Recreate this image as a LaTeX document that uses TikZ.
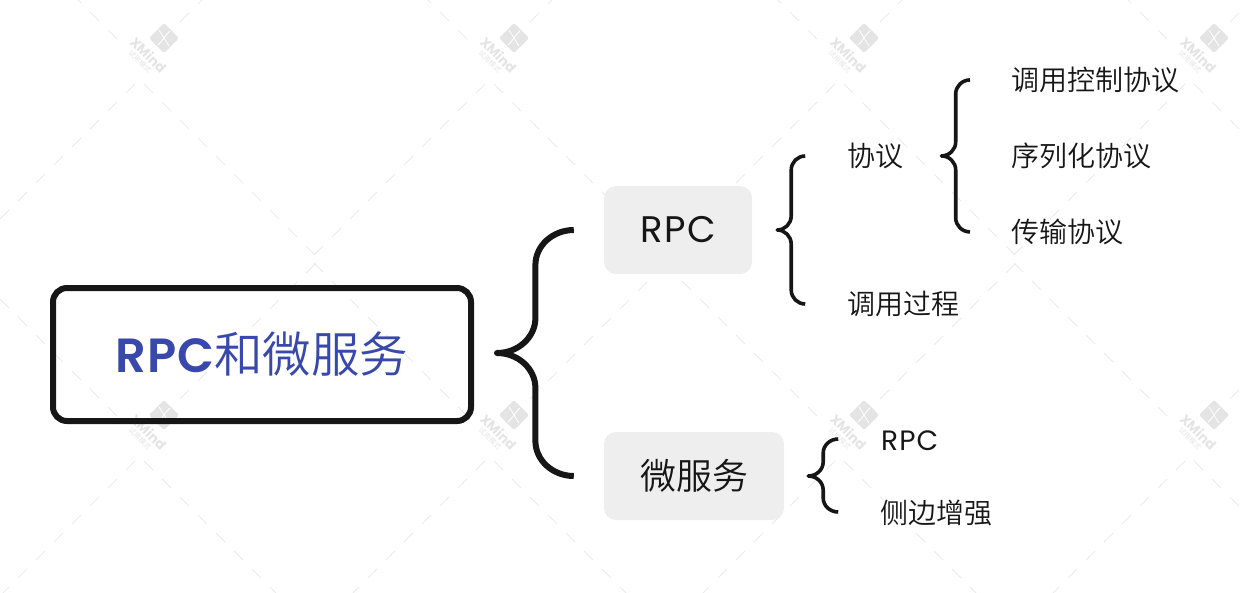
\documentclass[tikz,border=0pt]{standalone}
\usepackage{fontspec}
\setmainfont{Poppins}
\newfontfamily\cjk{Noto Sans CJK SC DemiLight}
\newfontfamily\cjkreg{Noto Sans CJK SC}
\newfontfamily\spaced[LetterSpace=4]{Poppins}
\newfontfamily\spacedbold[LetterSpace=1.5]{Poppins SemiBold}
\usetikzlibrary{calc}
\definecolor{ink}{HTML}{161616}
\definecolor{rootblue}{HTML}{3949AB}
\definecolor{pill}{HTML}{EEEEEE}
\definecolor{wmline}{HTML}{EBEBEB}
\definecolor{wmlogo}{HTML}{E4E4E4}
\tikzset{
  wmdash/.style={draw=wmline,line width=1pt,dash pattern=on 12.73pt off 12.73pt},
  rootbox/.style={draw=ink,line width=6pt,rounded corners=14pt,minimum width=418pt,minimum height=133pt,inner sep=0pt},
  pillbox/.style={fill=pill,rounded corners=12pt,minimum height=88pt,inner sep=0pt},
  kid/.style={anchor=base west,inner sep=0pt,text=ink,font=\fontsize{28}{34}\selectfont\cjk},
  bigbrace/.style={draw=ink,line width=6pt,line join=round},
  smallbrace/.style={draw=ink,line width=3.6pt,line join=round}
}
% #1 start, #2 end, #3 corner point: a quarter ellipse
\newcommand{\qarc}[3]{.. controls ($(#1)!.55!(#3)$) and ($(#2)!.55!(#3)$) .. (#2)}
% #1 style, #2 tip, #3 top end, #4 bottom end, #5 radius
\newcommand{\curlybrace}[5]{%
  \coordinate (bm) at ($(#2)!.5!(#2 -| #3)$);
  \coordinate (p1) at (#3 -| bm);
  \coordinate (p2) at (#2 -| bm);
  \coordinate (p3) at (#4 -| bm);
  \coordinate (u1) at ($(p1)+(0,#5)$);
  \coordinate (u2) at ($(p2)+(0,-#5)$);
  \coordinate (l1) at ($(p2)+(0,#5)$);
  \coordinate (l2) at ($(p3)+(0,-#5)$);
  \draw[#1] (#3) \qarc{#3}{u1}{p1} -- (u2) \qarc{u2}{#2}{p2}
     \qarc{#2}{l1}{p2} -- (l2) \qarc{l2}{#4}{p3};
}
\begin{document}
\begin{tikzpicture}[x=1pt,y=-1pt]
\useasboundingbox (0,0) rectangle (1242,592);
% watermark
\foreach \cx in {0,350,700,1050}{
 \foreach \cy in {0,377}{
  \begin{scope}[shift={(\cx,\cy)}]
   \draw[wmdash] (144,84) -- (315,255);
   \draw[wmdash] (135,84) -- (-36,255);
   \draw[wmdash] (117,39) -- (-36,-114);
   \draw[wmdash] (180,22) -- (315,-113);
   \fill[wmlogo,rounded corners=2pt] (164,23) -- (179,38) -- (164,53) -- (149,38) -- cycle;
   \draw[white,line width=.8pt] (159,30) .. controls (163,36) and (165,40) .. (169,46);
   \draw[white,line width=.8pt] (170,31) .. controls (165,35) and (163,41) .. (158,45);
   \node[rotate=-45,text=wmlogo,inner sep=0pt,font=\fontsize{13.5}{14}\selectfont\bfseries] at (148.5,55) {XMind};
   \node[rotate=-45,text=wmlogo,inner sep=0pt,font=\fontsize{7}{7}\selectfont\cjkreg] at (140,62) {试用模式};
  \end{scope}
 }
}
% nodes
\node[rootbox] (root) at (262,354.5) {\raisebox{3pt}{\color{rootblue}{\spacedbold\fontsize{48}{50}\selectfont RPC}{\cjk\fontsize{48.5}{50}\selectfont 和微服务}}};
\node[pillbox,minimum width=148pt] (rpc) at (678,230) {\spaced\fontsize{37}{40}\selectfont\color{ink}RPC};
\node[pillbox,minimum width=180pt] (ms) at (694,476) {\fontsize{36}{40}\selectfont\cjk\color{ink}微服务};
\node[kid] (xy) at (847.5,166.5) {协议};
\node[kid] (gc) at (847.5,314.5) {调用过程};
\node[kid] (k1) at (1011.5,90.5) {调用控制协议};
\node[kid] (k2) at (1011.5,166.5) {序列化协议};
\node[kid] (k3) at (1011.5,242.5) {传输协议};
\node[kid,font=\fontsize{28}{34}\selectfont\spaced] (r2) at (881,450) {RPC};
\node[kid] (cb) at (880,523.5) {侧边增强};
% brace end points, hung on the nodes
\coordinate (a1) at ($(rpc.west)+(-30,0)$);
\coordinate (a2) at ($(ms.west)+(-30,0)$);
\coordinate (at) at ($(root.east)+(23,0)$);
\coordinate (atip) at ($(a1)!.5!(a2)$);
\coordinate (atipx) at (at |- atip);
\curlybrace{bigbrace}{atipx}{a1}{a2}{35}
\coordinate (b1) at ($(rpc.east)+(53,-74)$);
\coordinate (b2) at ($(rpc.east)+(53,74)$);
\coordinate (btip) at ($(rpc.east)+(25,0)$);
\curlybrace{smallbrace}{btip}{b1}{b2}{14}
\coordinate (c1) at ($(xy.west)+(122.5,-76)$);
\coordinate (c2) at ($(xy.west)+(122.5,76)$);
\coordinate (ctip) at ($(xy.east)+(37.5,0)$);
\curlybrace{smallbrace}{ctip}{c1}{c2}{14}
\coordinate (d1) at ($(ms.east)+(54,-37)$);
\coordinate (d2) at ($(ms.east)+(54,36)$);
\coordinate (dtip) at ($(ms.east)+(24,0)$);
\curlybrace{smallbrace}{dtip}{d1}{d2}{14}
\end{tikzpicture}
\end{document}
